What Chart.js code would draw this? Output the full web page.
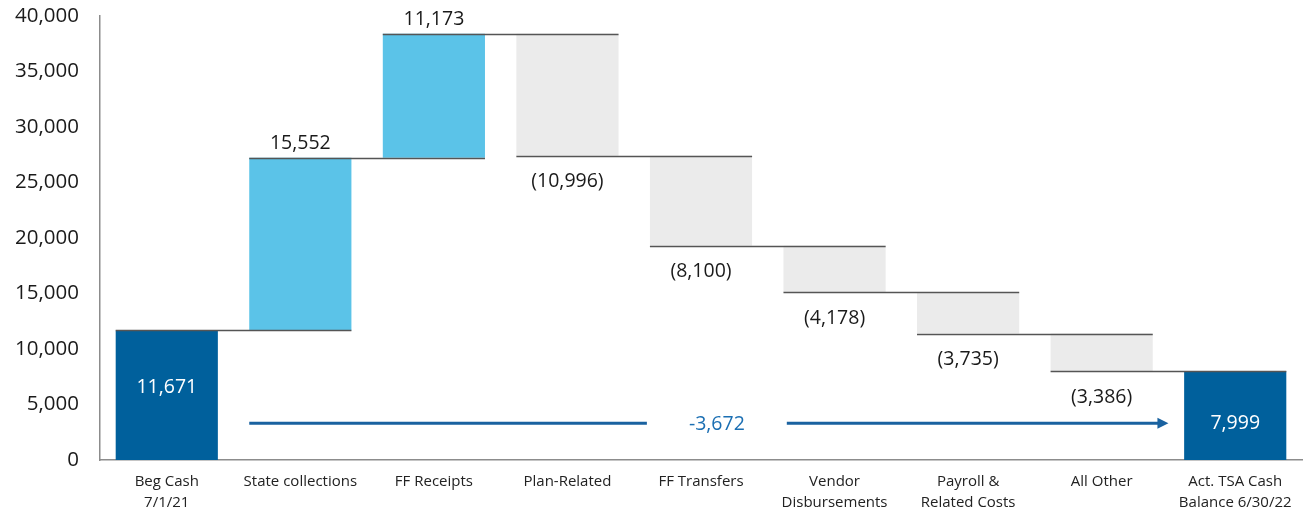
<!DOCTYPE html>
<html>
<head>
<meta charset="utf-8">
<script src="https://cdn.jsdelivr.net/npm/chart.js@4"></script>
<style>
  body { margin: 0; background: #fff; }
</style>
</head>
<body>
<canvas id="waterfall" width="1309" height="515"></canvas>
<script>
const categories = [
  ["Beg Cash", "7/1/21"],
  "State collections",
  "FF Receipts",
  "Plan-Related",
  "FF Transfers",
  ["Vendor", "Disbursements"],
  ["Payroll &", "Related Costs"],
  "All Other",
  ["Act. TSA Cash", "Balance 6/30/22"],
];
const begCash = 11671;
const changes = [15552, 11173, -10996, -8100, -4178, -3735, -3386];
const endCash = 7999;
const yTicks = [0, 5000, 10000, 15000, 20000, 25000, 30000, 35000, 40000];
const arrowLevel = 3300; // height of the net-change arrow, in cash units

const darkBlue = "#00609C";
const lightBlue = "#5BC3E8";
const lightGray = "#EBEBEB";

// build floating bars from running totals
const ranges = [[0, begCash]];
const levels = [begCash];
let running = begCash;
changes.forEach((c) => {
  ranges.push([running, running + c]);
  running += c;
  levels.push(running);
});
ranges.push([0, endCash]);

const colors = [darkBlue, ...changes.map((c) => (c > 0 ? lightBlue : lightGray)), darkBlue];
const fmt = (v) => Math.abs(v).toLocaleString("en-US");

Chart.defaults.font.family = "'Open Sans', sans-serif";
Chart.defaults.color = "#1a1a1a";

const waterfallExtras = {
  id: "waterfallExtras",
  afterDatasetsDraw(chart) {
    const ctx = chart.ctx;
    const y = chart.scales.y;
    const bars = chart.getDatasetMeta(0).data;
    const ay = y.getPixelForValue(arrowLevel);

    // connector lines: from a bar's left edge to the next bar's right edge
    ctx.save();
    ctx.strokeStyle = "#555";
    ctx.lineWidth = 1.5;
    for (let i = 0; i < bars.length - 1; i++) {
      const py = Math.round(y.getPixelForValue(levels[i])) + 0.5;
      ctx.beginPath();
      ctx.moveTo(bars[i].x - bars[i].width / 2, py);
      ctx.lineTo(bars[i + 1].x + bars[i + 1].width / 2, py);
      ctx.stroke();
    }

    // value labels
    ctx.font = "19.5px 'Open Sans'";
    ctx.textAlign = "center";
    ctx.textBaseline = "middle";
    bars.forEach((bar, i) => {
      const [lo, hi] = ranges[i];
      if (i === 0) {
        ctx.fillStyle = "#fff";
        ctx.fillText(fmt(hi), bar.x, (y.getPixelForValue(lo) + y.getPixelForValue(hi)) / 2 - 8);
      } else if (i === bars.length - 1) {
        ctx.fillStyle = "#fff";
        ctx.fillText(fmt(hi), bar.x, ay);
      } else if (hi > lo) {
        ctx.fillStyle = "#1a1a1a";
        ctx.fillText(fmt(hi - lo), bar.x, y.getPixelForValue(hi) - 14);
      } else {
        ctx.fillStyle = "#1a1a1a";
        ctx.fillText("(" + fmt(hi - lo) + ")", bar.x, y.getPixelForValue(hi) + 26);
      }
    });

    // net change arrow
    const net = endCash - begCash;
    const x0 = bars[1].x - bars[1].width / 2;
    const x1 = (bars[bars.length - 2].x + bars[bars.length - 1].x) / 2;
    const mid = (x0 + x1) / 2 + 8;
    const label = "-" + fmt(net);
    const half = ctx.measureText(label).width / 2 + 42;
    ctx.strokeStyle = "#1A62A0";
    ctx.fillStyle = "#1A62A0";
    ctx.lineWidth = 3;
    ctx.beginPath();
    ctx.moveTo(x0, ay);
    ctx.lineTo(mid - half, ay);
    ctx.moveTo(mid + half, ay);
    ctx.lineTo(x1 - 8, ay);
    ctx.stroke();
    ctx.beginPath();
    ctx.moveTo(x1, ay);
    ctx.lineTo(x1 - 11, ay - 5.5);
    ctx.lineTo(x1 - 11, ay + 5.5);
    ctx.closePath();
    ctx.fill();
    ctx.fillStyle = "#1B6FB3";
    ctx.fillText(label, mid, ay + 1);
    ctx.restore();
  },
};

new Chart(document.getElementById("waterfall"), {
  type: "bar",
  data: {
    labels: categories,
    datasets: [
      {
        data: ranges,
        backgroundColor: colors,
        borderWidth: 0,
        categoryPercentage: 1,
        barPercentage: 0.765,
      },
    ],
  },
  options: {
    responsive: false,
    animation: false,
    layout: { padding: { top: 0, right: 7, left: 0, bottom: 0 } },
    plugins: {
      legend: { display: false },
      tooltip: { enabled: false },
    },
    scales: {
      x: {
        grid: { display: false, drawTicks: false },
        border: { display: true, color: "#8c8c8c", width: 1.5 },
        ticks: {
          color: "#222",
          font: { size: 15, lineHeight: 1.35 },
          padding: 12,
          maxRotation: 0,
          autoSkip: false,
        },
        afterFit(scale) {
          scale.height = 55;
        },
      },
      y: {
        min: 0,
        max: 40000,
        grid: { display: false, drawTicks: false },
        border: { display: true, color: "#8c8c8c", width: 1.5 },
        afterBuildTicks(scale) {
          scale.ticks = yTicks.map((v) => ({ value: v }));
        },
        ticks: {
          font: { size: 20.5 },
          padding: 21,
          callback: (v) => v.toLocaleString("en-US"),
        },
        afterFit(scale) {
          scale.width = 100;
          scale.paddingTop = 16;
          scale.paddingBottom = 0;
        },
      },
    },
  },
  plugins: [waterfallExtras],
});
</script>
</body>
</html>
